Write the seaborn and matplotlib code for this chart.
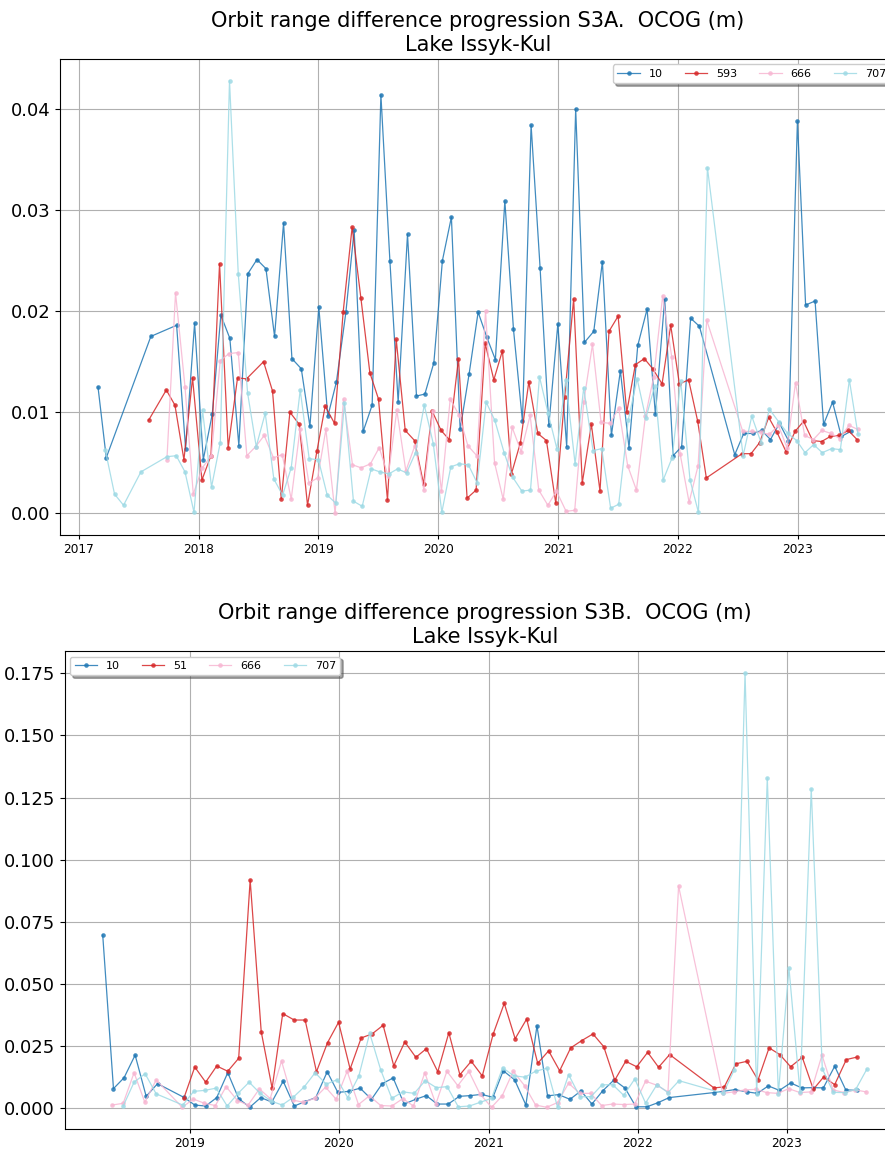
import pandas as pd
import matplotlib
matplotlib.use("Agg")
import matplotlib.pyplot as plt
import seaborn as sns

# ---- S3A, decimal years ----
a10_t = [2017.159, 2017.228, 2017.600, 2017.815, 2017.890, 2017.965, 2018.038, 2018.113, 2018.185, 2018.260,
         2018.335, 2018.410, 2018.486, 2018.561, 2018.633, 2018.708, 2018.778, 2018.856, 2018.928, 2019.003,
         2019.078, 2019.150, 2019.229, 2019.298, 2019.373, 2019.448, 2019.521, 2019.596, 2019.665, 2019.743,
         2019.818, 2019.888, 2019.963, 2020.035, 2020.110, 2020.183, 2020.258, 2020.333, 2020.406, 2020.477,
         2020.556, 2020.628, 2020.703, 2020.775, 2020.850, 2020.923, 2020.998, 2021.070, 2021.145, 2021.218,
         2021.296, 2021.368, 2021.443, 2021.518, 2021.590, 2021.663, 2021.741, 2021.810, 2021.888, 2021.958,
         2022.030, 2022.105, 2022.178, 2022.473, 2022.548, 2022.623, 2022.698, 2022.771, 2022.846, 2022.921,
         2022.996, 2023.065, 2023.144, 2023.215, 2023.290, 2023.363, 2023.441]
a10_v = [0.0125, 0.0055, 0.0175, 0.0186, 0.0064, 0.0188, 0.0053, 0.0098, 0.0196, 0.0173,
         0.0067, 0.0237, 0.0251, 0.0242, 0.0175, 0.0287, 0.0153, 0.0143, 0.0086, 0.0204,
         0.0096, 0.0130, 0.0199, 0.0280, 0.0081, 0.0107, 0.0414, 0.0250, 0.0110, 0.0276,
         0.0116, 0.0118, 0.0149, 0.0250, 0.0293, 0.0083, 0.0138, 0.0199, 0.0174, 0.0152,
         0.0309, 0.0182, 0.0091, 0.0384, 0.0243, 0.0087, 0.0187, 0.0066, 0.0400, 0.0169,
         0.0180, 0.0249, 0.0077, 0.0141, 0.0065, 0.0166, 0.0202, 0.0098, 0.0212, 0.0057,
         0.0066, 0.0193, 0.0185, 0.0058, 0.0079, 0.0079, 0.0082, 0.0073, 0.0089, 0.0072,
         0.0388, 0.0206, 0.0210, 0.0088, 0.0110, 0.0076, 0.0081]

a593_t = [2017.581, 2017.729, 2017.801, 2017.876, 2017.948, 2018.027, 2018.102, 2018.174, 2018.246, 2018.324,
          2018.399, 2018.541, 2018.616, 2018.689, 2018.761, 2018.839, 2018.908, 2018.987, 2019.056, 2019.134,
          2019.206, 2019.281, 2019.354, 2019.429, 2019.501, 2019.576, 2019.649, 2019.724, 2019.802, 2019.877,
          2019.949, 2020.024, 2020.091, 2020.169, 2020.241, 2020.316, 2020.392, 2020.464, 2020.536, 2020.611,
          2020.686, 2020.756, 2020.831, 2020.903, 2020.981, 2021.053, 2021.128, 2021.200, 2021.276, 2021.348,
          2021.423, 2021.499, 2021.571, 2021.643, 2021.718, 2021.788, 2021.866, 2021.938, 2022.011, 2022.088,
          2022.164, 2022.236, 2022.534, 2022.609, 2022.681, 2022.756, 2022.826, 2022.901, 2022.976, 2023.048,
          2023.123, 2023.198, 2023.271, 2023.346, 2023.421, 2023.494]
a593_v = [0.0092, 0.0122, 0.0107, 0.0053, 0.0134, 0.0033, 0.0057, 0.0247, 0.0065, 0.0134,
          0.0133, 0.0150, 0.0121, 0.0014, 0.0100, 0.0088, 0.0008, 0.0062, 0.0106, 0.0089,
          0.0199, 0.0283, 0.0213, 0.0139, 0.0113, 0.0013, 0.0172, 0.0082, 0.0072, 0.0029,
          0.0101, 0.0082, 0.0073, 0.0153, 0.0015, 0.0023, 0.0168, 0.0132, 0.0161, 0.0039,
          0.0070, 0.0130, 0.0079, 0.0072, 0.0010, 0.0115, 0.0212, 0.0030, 0.0088, 0.0022,
          0.0180, 0.0195, 0.0100, 0.0147, 0.0153, 0.0143, 0.0128, 0.0186, 0.0128, 0.0132,
          0.0091, 0.0035, 0.0059, 0.0059, 0.0070, 0.0095, 0.0080, 0.0061, 0.0081, 0.0091,
          0.0072, 0.0071, 0.0076, 0.0077, 0.0082, 0.0073]

a666_t = [2017.734, 2017.806, 2017.885, 2017.954, 2018.030, 2018.105, 2018.180, 2018.252, 2018.330, 2018.402,
          2018.475, 2018.547, 2018.624, 2018.697, 2018.772, 2018.845, 2018.920, 2018.992, 2019.062, 2019.139,
          2019.209, 2019.284, 2019.356, 2019.434, 2019.507, 2019.582, 2019.654, 2019.729, 2019.805, 2019.880,
          2019.952, 2020.027, 2020.100, 2020.175, 2020.247, 2020.322, 2020.395, 2020.470, 2020.542, 2020.617,
          2020.692, 2020.767, 2020.839, 2020.915, 2020.987, 2021.065, 2021.137, 2021.212, 2021.285, 2021.357,
          2021.432, 2021.504, 2021.579, 2021.652, 2021.727, 2021.796, 2021.871, 2021.946, 2022.017, 2022.092,
          2022.167, 2022.239, 2022.540, 2022.614, 2022.689, 2022.762, 2022.837, 2022.909, 2022.980, 2023.057,
          2023.130, 2023.201, 2023.277, 2023.349, 2023.427, 2023.500]
a666_v = [0.0053, 0.0218, 0.0125, 0.0019, 0.0045, 0.0057, 0.0151, 0.0158, 0.0159, 0.0057,
          0.0066, 0.0077, 0.0055, 0.0058, 0.0014, 0.0083, 0.0030, 0.0035, 0.0083, 0.0000,
          0.0113, 0.0048, 0.0045, 0.0049, 0.0065, 0.0037, 0.0102, 0.0042, 0.0067, 0.0023,
          0.0101, 0.0022, 0.0113, 0.0097, 0.0067, 0.0057, 0.0200, 0.0050, 0.0014, 0.0085,
          0.0061, 0.0097, 0.0023, 0.0008, 0.0022, 0.0002, 0.0003, 0.0110, 0.0167, 0.0090,
          0.0089, 0.0104, 0.0047, 0.0023, 0.0096, 0.0135, 0.0215, 0.0155, 0.0059, 0.0011,
          0.0047, 0.0191, 0.0081, 0.0081, 0.0080, 0.0078, 0.0087, 0.0065, 0.0129, 0.0077,
          0.0073, 0.0082, 0.0079, 0.0074, 0.0087, 0.0083]

a707_t = [2017.219, 2017.297, 2017.372, 2017.517, 2017.734, 2017.812, 2017.885, 2017.960, 2018.032, 2018.107,
          2018.180, 2018.257, 2018.330, 2018.408, 2018.480, 2018.555, 2018.627, 2018.700, 2018.772, 2018.847,
          2018.922, 2019.000, 2019.073, 2019.145, 2019.217, 2019.292, 2019.365, 2019.440, 2019.512, 2019.588,
          2019.660, 2019.735, 2019.810, 2019.883, 2019.958, 2020.030, 2020.105, 2020.177, 2020.252, 2020.325,
          2020.400, 2020.472, 2020.550, 2020.620, 2020.698, 2020.770, 2020.845, 2020.917, 2020.990, 2021.062,
          2021.140, 2021.212, 2021.290, 2021.362, 2021.437, 2021.504, 2021.583, 2021.658, 2021.730, 2021.805,
          2021.875, 2021.950, 2022.022, 2022.100, 2022.170, 2022.245, 2022.543, 2022.615, 2022.693, 2022.762,
          2022.843, 2022.915, 2022.990, 2023.060, 2023.132, 2023.204, 2023.282, 2023.355, 2023.430, 2023.502]
a707_v = [0.0063, 0.0019, 0.0008, 0.0041, 0.0056, 0.0057, 0.0041, 0.0001, 0.0102, 0.0026,
          0.0070, 0.0428, 0.0237, 0.0119, 0.0066, 0.0099, 0.0034, 0.0018, 0.0045, 0.0122,
          0.0054, 0.0053, 0.0018, 0.0010, 0.0109, 0.0012, 0.0007, 0.0044, 0.0041, 0.0039,
          0.0044, 0.0040, 0.0060, 0.0107, 0.0069, 0.0001, 0.0046, 0.0049, 0.0048, 0.0030,
          0.0110, 0.0092, 0.0060, 0.0036, 0.0022, 0.0023, 0.0135, 0.0099, 0.0064, 0.0132,
          0.0049, 0.0124, 0.0062, 0.0064, 0.0005, 0.0009, 0.0092, 0.0133, 0.0094, 0.0126,
          0.0033, 0.0055, 0.0131, 0.0033, 0.0001, 0.0342, 0.0057, 0.0096, 0.0070, 0.0103,
          0.0090, 0.0079, 0.0072, 0.0060, 0.0068, 0.0060, 0.0064, 0.0063, 0.0132, 0.0078]

# ---- S3B ----
b10_t = [2018.417, 2018.489, 2018.560, 2018.634, 2018.708, 2018.784, 2018.960, 2019.034, 2019.107, 2019.181,
         2019.255, 2019.328, 2019.402, 2019.476, 2019.550, 2019.626, 2019.700, 2019.773, 2019.844, 2019.921,
         2019.992, 2020.066, 2020.142, 2020.218, 2020.290, 2020.363, 2020.437, 2020.513, 2020.585, 2020.658,
         2020.732, 2020.806, 2020.881, 2020.955, 2021.029, 2021.098, 2021.174, 2021.250, 2021.324, 2021.395,
         2021.469, 2021.545, 2021.619, 2021.692, 2021.764, 2021.840, 2021.914, 2021.987, 2022.061, 2022.137,
         2022.210, 2022.508, 2022.649, 2022.731, 2022.800, 2022.874, 2022.948, 2023.024, 2023.098, 2023.171,
         2023.243, 2023.319, 2023.393, 2023.467]
b10_v = [0.0697, 0.0079, 0.0123, 0.0214, 0.0048, 0.0099, 0.0044, 0.0013, 0.0009, 0.0043,
         0.0143, 0.0039, 0.0004, 0.0043, 0.0025, 0.0109, 0.0009, 0.0027, 0.0043, 0.0147,
         0.0064, 0.0068, 0.0081, 0.0036, 0.0099, 0.0122, 0.0017, 0.0036, 0.0051, 0.0017,
         0.0017, 0.0048, 0.0051, 0.0056, 0.0044, 0.0151, 0.0115, 0.0013, 0.0332, 0.0050,
         0.0055, 0.0036, 0.0070, 0.0017, 0.0070, 0.0114, 0.0081, 0.0006, 0.0006, 0.0023,
         0.0043, 0.0063, 0.0075, 0.0066, 0.0060, 0.0090, 0.0072, 0.0102, 0.0082, 0.0083,
         0.0082, 0.0169, 0.0074, 0.0072]

b51_t = [2018.960, 2019.034, 2019.107, 2019.181, 2019.255, 2019.328, 2019.405, 2019.479, 2019.552, 2019.623,
         2019.700, 2019.773, 2019.849, 2019.923, 2019.997, 2020.075, 2020.149, 2020.222, 2020.296, 2020.367,
         2020.441, 2020.515, 2020.586, 2020.662, 2020.736, 2020.810, 2020.886, 2020.960, 2021.031, 2021.105,
         2021.178, 2021.255, 2021.329, 2021.402, 2021.476, 2021.550, 2021.623, 2021.699, 2021.771, 2021.845,
         2021.918, 2021.992, 2022.066, 2022.139, 2022.213, 2022.510, 2022.579, 2022.657, 2022.731, 2022.805,
         2022.879, 2022.951, 2023.024, 2023.102, 2023.176, 2023.245, 2023.319, 2023.397, 2023.469]
b51_v = [0.0040, 0.0166, 0.0105, 0.0170, 0.0149, 0.0201, 0.0918, 0.0308, 0.0081, 0.0381,
         0.0355, 0.0355, 0.0147, 0.0264, 0.0346, 0.0158, 0.0283, 0.0299, 0.0334, 0.0171,
         0.0267, 0.0205, 0.0240, 0.0147, 0.0304, 0.0135, 0.0189, 0.0130, 0.0299, 0.0422,
         0.0280, 0.0359, 0.0181, 0.0231, 0.0151, 0.0243, 0.0272, 0.0299, 0.0248, 0.0113,
         0.0189, 0.0167, 0.0225, 0.0165, 0.0216, 0.0082, 0.0086, 0.0179, 0.0189, 0.0114,
         0.0243, 0.0216, 0.0167, 0.0205, 0.0076, 0.0126, 0.0095, 0.0196, 0.0206]

b666_t = [2018.480, 2018.554, 2018.627, 2018.699, 2018.775, 2018.949, 2019.025, 2019.099, 2019.172, 2019.244,
          2019.320, 2019.391, 2019.467, 2019.539, 2019.615, 2019.690, 2019.762, 2019.836, 2019.910, 2019.981,
          2020.055, 2020.131, 2020.204, 2020.280, 2020.354, 2020.428, 2020.499, 2020.575, 2020.649, 2020.723,
          2020.796, 2020.870, 2020.944, 2021.020, 2021.091, 2021.165, 2021.241, 2021.315, 2021.389, 2021.462,
          2021.536, 2021.610, 2021.684, 2021.757, 2021.831, 2021.905, 2021.979, 2022.052, 2022.126, 2022.202,
          2022.273, 2022.568, 2022.642, 2022.716, 2022.792, 2022.863, 2022.937, 2023.011, 2023.087, 2023.160,
          2023.234, 2023.308, 2023.383, 2023.457, 2023.529]
b666_v = [0.0013, 0.0020, 0.0143, 0.0024, 0.0114, 0.0004, 0.0037, 0.0020, 0.0011, 0.0087,
          0.0031, 0.0013, 0.0078, 0.0039, 0.0190, 0.0033, 0.0024, 0.0040, 0.0085, 0.0036,
          0.0149, 0.0015, 0.0050, 0.0011, 0.0009, 0.0039, 0.0009, 0.0143, 0.0017, 0.0149,
          0.0091, 0.0149, 0.0058, 0.0004, 0.0050, 0.0149, 0.0091, 0.0013, 0.0004, 0.0023,
          0.0101, 0.0060, 0.0060, 0.0011, 0.0017, 0.0015, 0.0017, 0.0109, 0.0093, 0.0066,
          0.0894, 0.0060, 0.0066, 0.0074, 0.0076, 0.0063, 0.0060, 0.0079, 0.0063, 0.0066,
          0.0214, 0.0074, 0.0063, 0.0074, 0.0066]

b707_t = [2018.554, 2018.627, 2018.701, 2018.775, 2018.953, 2019.027, 2019.101, 2019.177, 2019.251, 2019.324,
          2019.398, 2019.472, 2019.546, 2019.619, 2019.693, 2019.767, 2019.840, 2019.914, 2019.988, 2020.059,
          2020.133, 2020.206, 2020.280, 2020.354, 2020.428, 2020.504, 2020.578, 2020.652, 2020.725, 2020.799,
          2020.873, 2020.946, 2021.020, 2021.094, 2021.168, 2021.243, 2021.315, 2021.391, 2021.462, 2021.536,
          2021.612, 2021.686, 2021.759, 2021.831, 2021.905, 2021.979, 2022.052, 2022.128, 2022.202, 2022.276,
          2022.572, 2022.646, 2022.718, 2022.796, 2022.867, 2022.941, 2023.013, 2023.087, 2023.162, 2023.236,
          2023.310, 2023.386, 2023.460, 2023.534]
b707_v = [0.0009, 0.0105, 0.0139, 0.0058, 0.0013, 0.0068, 0.0072, 0.0081, 0.0009, 0.0060,
          0.0105, 0.0060, 0.0029, 0.0013, 0.0044, 0.0086, 0.0143, 0.0097, 0.0115, 0.0043,
          0.0129, 0.0302, 0.0154, 0.0040, 0.0066, 0.0060, 0.0111, 0.0083, 0.0087, 0.0006,
          0.0009, 0.0024, 0.0040, 0.0163, 0.0131, 0.0125, 0.0149, 0.0161, 0.0004, 0.0135,
          0.0046, 0.0047, 0.0094, 0.0095, 0.0052, 0.0118, 0.0021, 0.0095, 0.0063, 0.0111,
          0.0060, 0.0155, 0.1752, 0.0058, 0.1329, 0.0059, 0.0563, 0.0064, 0.1285, 0.0159,
          0.0064, 0.0063, 0.0076, 0.0157]

colors = {"10": "#1f77b4", "593": "#d62728", "51": "#d62728", "666": "#f7b6d2", "707": "#9edae5"}


def to_dates(years):
    return [pd.Timestamp(int(y), 1, 1) + pd.Timedelta(days=(y - int(y)) * 365.25) for y in years]


fig = plt.figure(figsize=(8.85, 11.49), dpi=100)
ax1 = fig.add_axes([0.0678, 0.5344, 0.9446, 0.4143])
ax2 = fig.add_axes([0.0729, 0.0174, 0.9497, 0.4160])

top = [("10", a10_t, a10_v), ("593", a593_t, a593_v), ("666", a666_t, a666_v), ("707", a707_t, a707_v)]
bottom = [("10", b10_t, b10_v), ("51", b51_t, b51_v), ("666", b666_t, b666_v), ("707", b707_t, b707_v)]

for ax, series, sat, loc in [(ax1, top, "S3A", "upper right"), (ax2, bottom, "S3B", "upper left")]:
    for name, t, v in series:
        sns.lineplot(x=to_dates(t), y=v, ax=ax, label=name, color=colors[name],
                     marker="o", markersize=3.3, markeredgewidth=0, linewidth=0.9, alpha=0.85)
    ax.grid(True)
    ax.set_title("Orbit range difference progression " + sat + ".  OCOG (m)\nLake Issyk-Kul", fontsize=15)
    ax.tick_params(axis="y", labelsize=13)
    ax.tick_params(axis="x", labelsize=8.7, length=3, pad=2.5)
    ax.legend(loc=loc, ncol=4, fontsize=8, shadow=True)

fig.savefig("out.png", dpi=100)
